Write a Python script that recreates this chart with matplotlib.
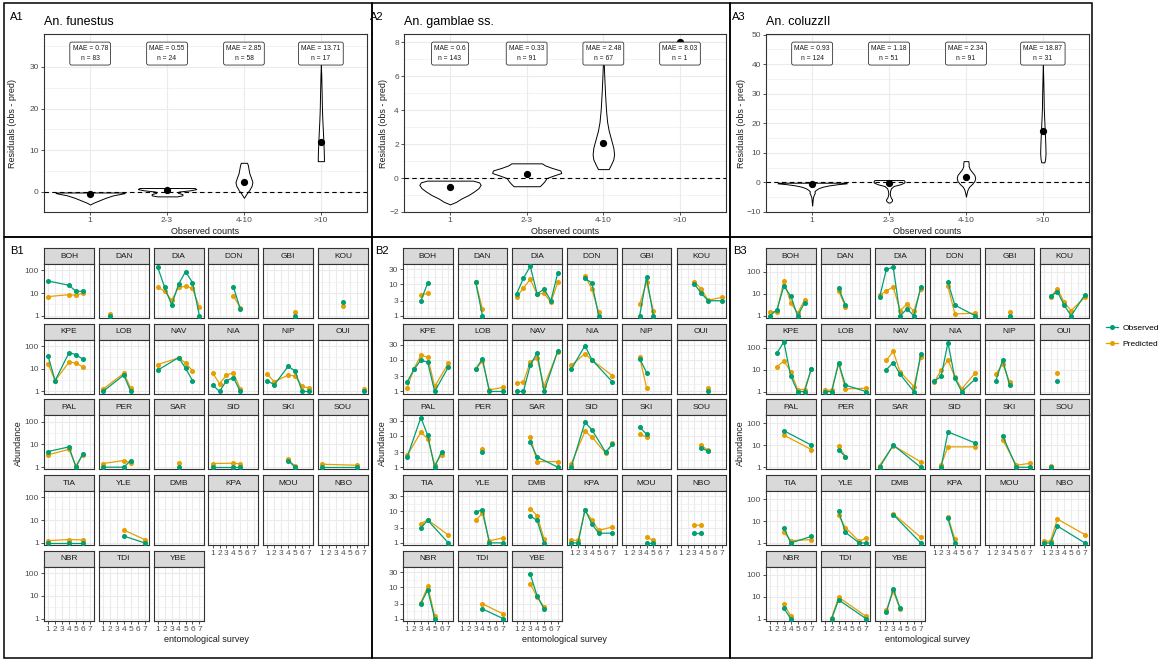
import matplotlib
matplotlib.use("Agg")
import matplotlib.pyplot as plt
from matplotlib.patches import Rectangle
from matplotlib.lines import Line2D
from matplotlib.ticker import FixedLocator, NullLocator
import numpy as np

plt.rcParams['font.family'] = ['Liberation Sans', 'DejaVu Sans']

# ------------------------------------------------------------------ data
CATEGORIES = ['1', '2-3', '4-10', '>10']

FUN_MAE = [0.78, 0.55, 2.85, 13.71]
FUN_N = [83, 24, 58, 17]
GAM_MAE = [0.6, 0.33, 2.48, 8.03]
GAM_N = [143, 91, 67, 1]
COL_MAE = [0.93, 1.18, 2.34, 18.87]
COL_N = [124, 51, 91, 31]

FUN_MEAN = [-0.45, 0.4, 2.4, 11.9]
GAM_MEAN = [-0.5, 0.22, 2.05, 8.05]
COL_MEAN = [-0.6, -0.35, 1.7, 17.5]

# violin outlines: residual levels and half-widths (per category)
FUN_VY = [[-3.0, -2.6, -2.0, -1.4, -0.8, -0.45, -0.25, -0.12],
          [-1.05, -0.8, -0.5, -0.2, 0.1, 0.4, 0.7, 0.95],
          [-1.4, -0.5, 0.5, 1.5, 2.4, 3.5, 4.5, 5.5, 6.5, 7.0],
          [7.4, 8.5, 10, 12, 14, 17, 20, 24, 28, 30.5]]
FUN_VW = [[0.0, 0.04, 0.12, 0.2, 0.3, 0.4, 0.45, 0.44],
          [0.13, 0.2, 0.2, 0.14, 0.15, 0.3, 0.38, 0.36],
          [0.0, 0.03, 0.07, 0.1, 0.11, 0.09, 0.07, 0.06, 0.05, 0.04],
          [0.04, 0.04, 0.037, 0.033, 0.028, 0.02, 0.014, 0.01, 0.005, 0.0]]
GAM_VY = [[-1.55, -1.4, -1.2, -1.0, -0.8, -0.6, -0.4, -0.25, -0.15],
          [-0.48, -0.35, -0.2, 0.0, 0.15, 0.3, 0.45, 0.6, 0.75, 0.87],
          [0.53, 0.8, 1.1, 1.4, 1.8, 2.3, 2.8, 3.3, 4.0, 5.0, 6.0, 6.85],
          []]
GAM_VW = [[0.0, 0.08, 0.15, 0.24, 0.31, 0.37, 0.4, 0.38, 0.3],
          [0.17, 0.2, 0.23, 0.26, 0.35, 0.45, 0.44, 0.33, 0.24, 0.2],
          [0.07, 0.1, 0.13, 0.14, 0.13, 0.1, 0.07, 0.05, 0.035, 0.022, 0.012, 0.005],
          []]
COL_VY = [[-7.8, -6.5, -5.0, -4.0, -3.5, -3.0, -2.5, -2.0, -1.5, -1.0, -0.6, -0.3, -0.1],
          [-6.8, -6.3, -5.8, -5.0, -4.0, -3.0, -2.0, -1.2, -0.6, 0.0, 0.5, 0.8],
          [-4.8, -3.5, -2.5, -1.5, -0.5, 0.5, 1.5, 2.5, 3.5, 4.5, 5.5, 6.5, 7.2],
          [6.8, 8, 10, 13, 16, 20, 25, 30, 35, 40.2]]
COL_VW = [[0.0, 0.005, 0.01, 0.025, 0.035, 0.03, 0.05, 0.08, 0.13, 0.22, 0.33, 0.45, 0.44],
          [0.01, 0.035, 0.04, 0.02, 0.01, 0.012, 0.025, 0.06, 0.15, 0.2, 0.2, 0.19],
          [0.0, 0.01, 0.02, 0.04, 0.08, 0.11, 0.12, 0.11, 0.08, 0.05, 0.035, 0.035, 0.03],
          [0.02, 0.03, 0.035, 0.032, 0.027, 0.02, 0.012, 0.009, 0.005, 0.0]]

SITES = ['BOH', 'DAN', 'DIA', 'DON', 'GBI', 'KOU',
         'KPE', 'LOB', 'NAV', 'NIA', 'NIP', 'OUI',
         'PAL', 'PER', 'SAR', 'SID', 'SKI', 'SOU',
         'TIA', 'YLE', 'DMB', 'KPA', 'MOU', 'NBO',
         'NBR', 'TDI', 'YBE']
SURVEYS = [1, 2, 3, 4, 5, 6, 7]

# An. funestus: survey, observed, predicted per site
FUN_SURVEY = {'BOH': [1, 4, 5, 6], 'DAN': [2], 'DIA': [1, 2, 3, 4, 5, 6, 7], 'DON': [4, 5],
              'GBI': [5], 'KOU': [4], 'KPE': [1, 2, 4, 5, 6], 'LOB': [1, 4, 5],
              'NAV': [1, 4, 5, 6], 'NIA': [1, 2, 3, 4, 5], 'NIP': [1, 2, 4, 5, 6, 7], 'OUI': [7],
              'PAL': [1, 4, 5, 6], 'PER': [1, 4, 5], 'SAR': [4], 'SID': [1, 4, 5],
              'SKI': [4, 5], 'SOU': [1, 6], 'TIA': [1, 4, 6], 'YLE': [4, 7]}
FUN_OBS = {'BOH': [34, 22, 12, 12], 'DAN': [1], 'DIA': [135, 17.6, 3, 24.7, 88, 29, 1],
           'DON': [19, 1.9], 'GBI': [1], 'KOU': [3.9], 'KPE': [35, 3, 51, 42, 26],
           'LOB': [1, 5.3, 1], 'NAV': [8.7, 31, 10.7, 3], 'NIA': [1.95, 1, 3, 4.1, 1],
           'NIP': [3, 1.95, 13, 7.9, 1, 1], 'OUI': [1], 'PAL': [4.9, 7.8, 1, 4],
           'PER': [1, 1, 1.96], 'SAR': [1], 'SID': [1, 1, 1], 'SKI': [1.96, 1],
           'SOU': [1, 1], 'TIA': [1, 1, 1], 'YLE': [2, 1]}
FUN_PRED = {'BOH': [7, 8.5, 8, 10], 'DAN': [1.2], 'DIA': [17.6, 12.2, 4.8, 17.6, 20, 16, 2.4],
            'DON': [7.4, 2.3], 'GBI': [1.5], 'KOU': [2.6], 'KPE': [16, 3, 19.5, 18, 12],
            'LOB': [1.26, 6.3, 1.4], 'NAV': [15.4, 30, 18, 8.2], 'NIA': [6.7, 2.2, 5.3, 6.7, 1.26],
            'NIP': [5.7, 2.7, 5.3, 4.8, 1.7, 1.4], 'OUI': [1.26], 'PAL': [3.5, 6.1, 1.15, 3.6],
            'PER': [1.45, 1.96, 1.6], 'SAR': [1.5], 'SID': [1.45, 1.5, 1.4], 'SKI': [2.2, 1.1],
            'SOU': [1.35, 1.22], 'TIA': [1.26, 1.4, 1.35], 'YLE': [3.7, 1.4]}

# An. gambiae ss.
GAM_SURVEY = {'BOH': [3, 4], 'DAN': [3, 4], 'DIA': [1, 2, 3, 4, 5, 6, 7], 'DON': [3, 4, 5],
              'GBI': [3, 4, 5], 'KOU': [3, 4, 5, 7], 'KPE': [1, 2, 3, 4, 5, 7], 'LOB': [3, 4, 5, 7],
              'NAV': [1, 2, 3, 4, 5, 7], 'NIA': [1, 3, 4, 7], 'NIP': [3, 4], 'OUI': [5],
              'PAL': [1, 3, 4, 5, 6], 'PER': [4], 'SAR': [3, 4, 7], 'SID': [1, 3, 4, 6, 7],
              'SKI': [3, 4], 'SOU': [4, 5], 'TIA': [3, 4, 7], 'YLE': [3, 4, 5, 7],
              'DMB': [3, 4, 5], 'KPA': [1, 2, 3, 4, 5, 7], 'MOU': [4, 5], 'NBO': [3, 4],
              'NBR': [3, 4, 5], 'TDI': [4, 7], 'YBE': [3, 4, 5]}
GAM_OBS = {'BOH': [3, 11], 'DAN': [12.2, 1], 'DIA': [4.9, 15.5, 37.5, 4.9, 7.1, 3, 23],
           'DON': [15.5, 11, 1], 'GBI': [1, 17, 1], 'KOU': [10.2, 5.2, 3, 3],
           'KPE': [2, 5, 10, 8.4, 1, 6], 'LOB': [5, 11, 1, 1], 'NAV': [1, 1, 6.9, 17, 1, 19.4],
           'NIA': [5, 28.7, 10.2, 2], 'NIP': [11, 4], 'OUI': [1], 'PAL': [2.1, 37.5, 10.2, 1, 3.1],
           'PER': [3.1], 'SAR': [6.1, 2.1, 1], 'SID': [1, 26.6, 15.5, 3, 5.3], 'SKI': [18.9, 11],
           'SOU': [4.1, 3.2], 'TIA': [3, 5.2, 1], 'YLE': [9.3, 11.3, 1, 1], 'DMB': [7.1, 5.2, 1],
           'KPA': [1, 1, 11.3, 4, 2.03, 2.03], 'MOU': [1, 1], 'NBO': [2.03, 2.03],
           'NBR': [3, 8.2, 1], 'TDI': [2.03, 1], 'YBE': [25.3, 5.2, 2.03]}
GAM_PRED = {'BOH': [4.45, 5.2], 'DAN': [12.2, 1.6], 'DIA': [3.9, 7.6, 14.4, 4.8, 5.2, 2.65, 11.6],
            'DON': [18.4, 7.1, 1.28], 'GBI': [2.3, 11.6, 1.4], 'KOU': [11.9, 7.1, 3.1, 3.85],
            'KPE': [1.28, 5.3, 14, 12.2, 1.44, 7.8], 'LOB': [5, 9.3, 1.13, 1.34],
            'NAV': [1.9, 1.94, 8.8, 11.3, 1.48, 18.4], 'NIA': [6.7, 15.9, 10, 3.16],
            'NIP': [12.5, 1.3], 'OUI': [1.28], 'PAL': [2.36, 12.8, 8, 1.19, 2.47], 'PER': [3.75],
            'SAR': [9.1, 1.5, 1.5], 'SID': [1.28, 13.7, 9.1, 2.8, 5.8], 'SKI': [11, 9.1],
            'SOU': [4.9, 3.4], 'TIA': [4.04, 5.4, 1.76], 'YLE': [5.2, 8.6, 1.16, 1.44],
            'DMB': [12.2, 7.3, 1.34], 'KPA': [1.2, 1.2, 10.7, 5.4, 2.5, 3.2], 'MOU': [1.52, 1.2],
            'NBO': [3.66, 3.6], 'NBR': [3.16, 10.5, 1.25], 'TDI': [2.94, 1.41],
            'YBE': [12.5, 4.9, 2.36]}

# An. coluzzii
COL_SURVEY = {'BOH': [1, 2, 3, 4, 5, 6], 'DAN': [3, 4], 'DIA': [1, 2, 3, 4, 5, 6, 7],
              'DON': [3, 4, 7], 'GBI': [4], 'KOU': [2, 3, 4, 5, 7], 'KPE': [2, 3, 4, 5, 6, 7],
              'LOB': [1, 2, 3, 4, 7], 'NAV': [2, 3, 4, 6, 7], 'NIA': [1, 2, 3, 4, 5, 7],
              'NIP': [2, 3, 4], 'OUI': [3], 'PAL': [3, 7], 'PER': [3, 4], 'SAR': [1, 3, 7],
              'SID': [2, 3, 7], 'SKI': [3, 5, 7], 'SOU': [2], 'TIA': [3, 4, 7], 'YLE': [3, 4, 6, 7],
              'DMB': [3, 7], 'KPA': [3, 4], 'NBO': [1, 2, 3, 7], 'NBR': [3, 4], 'TDI': [2, 3, 7],
              'YBE': [2, 3, 4]}
COL_OBS = {'BOH': [1, 1.95, 22.8, 7.95, 1, 3.9], 'DAN': [18.5, 3.08],
           'DIA': [6.9, 133, 164, 1, 2.1, 1, 20.5], 'DON': [33.6, 3.08, 1], 'GBI': [1],
           'KOU': [7.7, 12.6, 3.08, 1, 9.2], 'KPE': [56.7, 183, 5.1, 1, 1, 11.1],
           'LOB': [1, 1, 20.3, 1.96, 1], 'NAV': [10, 21, 6.1, 1, 51], 'NIA': [3, 4.9, 170, 4, 1, 3.8],
           'NIP': [3, 28, 1.96], 'OUI': [3], 'PAL': [46, 10.2], 'PER': [6, 3.08], 'SAR': [1, 10.2, 1],
           'SID': [1, 41, 12.6], 'SKI': [27, 1, 1], 'SOU': [1], 'TIA': [5, 1, 2],
           'YLE': [27.5, 3.05, 1, 1], 'DMB': [19.4, 1], 'KPA': [13.2, 1], 'NBO': [1, 1, 5.9, 1],
           'NBR': [2.97, 1], 'TDI': [1, 7.2, 1], 'YBE': [2, 22.8, 2.97]}
COL_PRED = {'BOH': [1.58, 1.52, 40, 3.9, 1.32, 5.2], 'DAN': [14, 2.6],
            'DIA': [8.5, 14, 20.5, 1.75, 3.4, 1.63, 17.2], 'DON': [22, 1.23, 1.32], 'GBI': [1.52],
            'KOU': [7.1, 17.2, 4.1, 1.75, 7.1], 'KPE': [13.3, 25, 8.1, 1.24, 1.24, 11.1],
            'LOB': [1.15, 1.15, 18.9, 1.33, 1.42], 'NAV': [27, 67, 7.8, 1.7, 38],
            'NIA': [2.7, 9.3, 28, 4.6, 1.33, 7.2], 'NIP': [6.1, 18.3, 2.8], 'OUI': [7],
            'PAL': [29, 6.4], 'PER': [9.1, 3.08], 'SAR': [1.19, 9.8, 1.75], 'SID': [1.28, 8.5, 8.5],
            'SKI': [17.8, 1.23, 1.52], 'SOU': [1.1], 'TIA': [3.05, 1.28, 1.42],
            'YLE': [18.1, 5, 1.19, 1.69], 'DMB': [21.5, 1.81], 'KPA': [15.2, 1.52],
            'NBO': [1.19, 1.23, 12.3, 2.4], 'NBR': [4.7, 1.33], 'TDI': [1.1, 9.5, 1.28],
            'YBE': [2.4, 17.8, 2.67]}

# ------------------------------------------------------------------ style
W, H = 1162, 661
fig = plt.figure(figsize=(W / 100, H / 100), dpi=100)

GRID = '#EBEBEB'
BORDER = '#333333'
TICKC = '#4D4D4D'
GREEN = '#009E73'
ORANGE = '#E69F00'


def add_ax(l, t, r, b):
    return fig.add_axes([l / W, 1 - b / H, (r - l) / W, (b - t) / H])


def style(ax):
    for s in ax.spines.values():
        s.set_color(BORDER)
        s.set_linewidth(0.8)
    ax.set_axisbelow(True)
    ax.tick_params(which='major', length=2.5, width=0.6, color=BORDER,
                   labelsize=6, labelcolor=TICKC, pad=1.2)
    ax.tick_params(which='minor', length=0)
    ax.grid(True, which='major', color=GRID, lw=0.8)
    ax.grid(True, which='minor', color=GRID, lw=0.4)
    ax.xaxis.set_minor_locator(NullLocator())


# ------------------------------------------------------------------ panels A
def violin_panel(l, r, ylim, yticks, yminor, vy, vw, means, mae, n):
    ax = add_ax(l, 34, r, 212)
    style(ax)
    ax.set_xlim(0.4, 4.6)
    ax.set_ylim(*ylim)
    ax.set_xticks(range(1, 5))
    ax.set_xticklabels(CATEGORIES)
    ax.set_yticks(yticks)
    ax.yaxis.set_minor_locator(FixedLocator(yminor))
    for i in range(4):
        if len(vy[i]):
            y = np.array(vy[i], dtype=float)
            w = np.array(vw[i], dtype=float)
            ax.fill_betweenx(y, (i + 1) - w, (i + 1) + w, facecolor='white',
                             edgecolor='black', lw=0.7, zorder=2)
    ax.axhline(0, color='black', ls=(0, (4, 3)), lw=0.8, zorder=3)
    ax.plot(range(1, 5), means, 'o', color='black', ms=4.2, zorder=4, clip_on=False)
    for i in range(4):
        ax.text(i + 1, 0.89, f"MAE = {mae[i]}\nn = {n[i]}", transform=ax.get_xaxis_transform(),
                ha='center', va='center', fontsize=4.9, linespacing=1.7, color='#1A1A1A',
                bbox=dict(boxstyle='round,pad=0.4,rounding_size=0.3', fc='white',
                          ec='#333333', lw=0.6), zorder=5)
    return ax


violin_panel(44, 367, (-4.8, 37.9), [0, 10, 20, 30], [5, 15, 25, 35],
             FUN_VY, FUN_VW, FUN_MEAN, FUN_MAE, FUN_N)
violin_panel(404, 726, (-2.0, 8.5), [-2, 0, 2, 4, 6, 8], [-1, 1, 3, 5, 7],
             GAM_VY, GAM_VW, GAM_MEAN, GAM_MAE, GAM_N)
violin_panel(766, 1089, (-10, 50.2), [-10, 0, 10, 20, 30, 40, 50], [-5, 5, 15, 25, 35, 45],
             COL_VY, COL_VW, COL_MEAN, COL_MAE, COL_N)

for xl, (l, r), title, tag in [(13, (44, 367), 'An. funestus', 'A1'),
                               (383, (404, 726), 'An. gamblae ss.', 'A2'),
                               (741, (766, 1089), 'An. coluzzII', 'A3')]:
    fig.text(l / W, 1 - 22 / H, title, fontsize=9, va='center', ha='left')
    fig.text((l - 34) / W, 1 - 17 / H, tag, fontsize=8, va='center', ha='left')
    fig.text(xl / W, 1 - 123 / H, 'Residuals (obs - pred)', rotation=90, fontsize=6.5,
             va='center', ha='center', color='#1A1A1A')
    fig.text((l + r) / 2 / W, 1 - 231 / H, 'Observed counts', fontsize=6.5,
             va='center', ha='center', color='#1A1A1A')

# ------------------------------------------------------------------ panels B
ROW0, ROW_PITCH, STRIP_H, PANEL_H = 248, 75.7, 16, 54


def facet_block(L, pitch, w, surv, obs, pred, ylim, yticks, ytl, yminor):
    for i, site in enumerate(SITES):
        r, c = divmod(i, 6)
        left = L + c * pitch
        top = ROW0 + r * ROW_PITCH
        sax = add_ax(left, top, left + w, top + STRIP_H)
        sax.set_facecolor('#D9D9D9')
        for s in sax.spines.values():
            s.set_color(BORDER)
            s.set_linewidth(0.8)
        sax.set_xticks([])
        sax.set_yticks([])
        sax.text(0.5, 0.5, site, ha='center', va='center', fontsize=6,
                 color='#1A1A1A', transform=sax.transAxes)

        ax = add_ax(left, top + STRIP_H, left + w, top + STRIP_H + PANEL_H)
        style(ax)
        ax.set_yscale('log')
        ax.set_xlim(0.4, 7.6)
        ax.set_ylim(*ylim)
        ax.set_xticks(SURVEYS)
        ax.set_xticklabels([str(s) for s in SURVEYS])
        ax.set_yticks(yticks)
        ax.set_yticklabels(ytl)
        ax.yaxis.set_minor_locator(FixedLocator(yminor))
        show_x = (r == 4) or (r == 3 and c >= 3)
        show_y = (c == 0)
        ax.tick_params(axis='x', which='major', bottom=show_x, labelbottom=show_x)
        ax.tick_params(axis='y', which='major', left=show_y, labelleft=show_y)
        if site in surv:
            ax.plot(surv[site], pred[site], color=ORANGE, lw=0.9, marker='o', ms=2.6,
                    zorder=3, clip_on=False)
            ax.plot(surv[site], obs[site], color=GREEN, lw=0.9, marker='o', ms=2.6,
                    zorder=4, clip_on=False)


dec_minor = [10 ** 0.5, 10 ** 1.5]
facet_block(44, 54.8, 50, FUN_SURVEY, FUN_OBS, FUN_PRED, (0.8, 190),
            [1, 10, 100], ['1', '10', '100'], dec_minor)
facet_block(403, 54.7, 49.5, GAM_SURVEY, GAM_OBS, GAM_PRED, (0.85, 44),
            [1, 3, 10, 30], ['1', '3', '10', '30'],
            [np.sqrt(3), np.sqrt(30), np.sqrt(300)])
facet_block(766, 54.7, 49.5, COL_SURVEY, COL_OBS, COL_PRED, (0.8, 230),
            [1, 10, 100], ['1', '10', '100'], dec_minor)

for xl, (l, r), tag, tagx in [(18, (44, 368), 'B1', 10), (382, (403, 726), 'B2', 375),
                               (740, (766, 1089), 'B3', 733)]:
    fig.text(tagx / W, 1 - 251 / H, tag, fontsize=8, va='center', ha='left')
    fig.text(xl / W, 1 - 443 / H, 'Abundance', rotation=90, fontsize=6.5,
             va='center', ha='center', color='#1A1A1A')
    fig.text((l + r) / 2 / W, 1 - 640 / H, 'entomological survey', fontsize=6.5,
             va='center', ha='center', color='#1A1A1A')

# legend
handles = [Line2D([], [], color=GREEN, lw=0.9, marker='o', ms=2.6),
           Line2D([], [], color=ORANGE, lw=0.9, marker='o', ms=2.6)]
fig.legend(handles, ['Observed', 'Predicted'], loc='center left',
           bbox_to_anchor=(1106 / W, 1 - 336 / H), frameon=False, fontsize=6,
           handlelength=1.4, handletextpad=0.6, labelspacing=1.0,
           borderpad=0, borderaxespad=0)

# frames
for (x0, y0, x1, y1) in [(4, 3, 372, 237), (372, 3, 730, 237), (730, 3, 1092, 237),
                         (4, 237, 372, 658), (372, 237, 730, 658), (730, 237, 1092, 658)]:
    fig.add_artist(Rectangle((x0 / W, 1 - y1 / H), (x1 - x0) / W, (y1 - y0) / H,
                             transform=fig.transFigure, fill=False, edgecolor='black', lw=1.1))

fig.savefig('out.png', dpi=100)
